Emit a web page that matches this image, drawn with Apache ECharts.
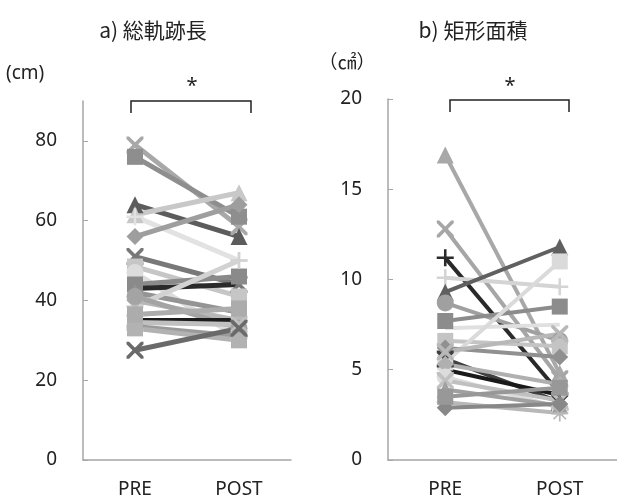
<!DOCTYPE html>
<html><head><meta charset="utf-8">
<script src="https://cdn.jsdelivr.net/npm/echarts@6/dist/echarts.min.js"></script>
<style>html,body{margin:0;padding:0;background:#fff}#c{width:617px;height:499px}</style>
</head><body><div id="c"></div>
<script>
// ---- data ----
const categories = ['PRE', 'POST'];
// a) total path length (cm)
const leftPre  = [79, 76, 64, 61.5, 61, 56, 51, 48.5, 47, 44, 43, 42, 38.5, 40, 41, 35, 34.5, 33.5, 33, 27.5, 36.5];
const leftPost = [58.5, 61, 56, 67, 50, 64, 44, 41, 30.5, 46, 44, 37, 50, 35, 33, 35, 34, 31, 30, 33, 38];
// b) rectangle area (cm2)
const rightPre  = [16.9, 12.8, 11.2, 10.1, 9.3, 8.7, 7.7, 7.3, 6.6, 5.4, 6.2, 5.6, 5.3, 5.0, 4.6, 4.4, 3.9, 3.2, 2.9, 6.0, 3.5];
const rightPost = [4.8, 4.5, 3.7, 9.6, 11.8, 6.6, 8.5, 7.5, 6.3, 11.0, 5.7, 3.2, 4.2, 3.6, 2.9, 3.3, 3.0, 2.6, 3.1, 7.0, 4.0];
const leftTicks = [0, 20, 40, 60, 80];

// ---- styles ----
const X = 'path://M0,0 L3,0 L10,7 L17,0 L20,0 L20,3 L13,10 L20,17 L20,20 L17,20 L10,13 L3,20 L0,20 L0,17 L7,10 L0,3 Z';
const P = 'path://M8.5,0 H11.5 V8.5 H20 V11.5 H11.5 V20 H8.5 V11.5 H0 V8.5 H8.5 Z';
const S = 'path://M9,0 H11 V7.6 L16.6,2 L18,3.4 L12.4,9 H20 V11 H12.4 L18,16.6 L16.6,18 L11,12.4 V20 H9 V12.4 L3.4,18 L2,16.6 L7.6,11 H0 V9 H7.6 L2,3.4 L3.4,2 L9,7.6 Z';
const leftSym = [X, 'rect', 'triangle', 'triangle', P, 'diamond', X, 'rect', 'circle', 'rect', 'none', 'triangle', P, 'diamond', 'circle', 'none', X, 'circle', 'rect', X, 'rect'];
const leftCol = ['#a8a8a8', '#8e8e8e', '#5c5c5c', '#c8c8c8', '#e2e2e2', '#9e9e9e', '#787878', '#c6c6c6', '#dcdcdc', '#8a8a8a', '#2a2a2a', '#949494', '#d2d2d2', '#b8b8b8', '#a4a4a4', '#1c1c1c', '#c0c0c0', '#9a9a9a', '#b2b2b2', '#6a6a6a', '#acacac'];
const rightSym = ['triangle', X, P, P, 'triangle', 'circle', 'rect', 'none', 'rect', 'rect', 'diamond', X, 'diamond', 'none', 'circle', X, 'triangle', S, 'diamond', X, 'rect'];
const rightCol = ['#a8a8a8', '#a6a6a6', '#2a2a2a', '#d4d4d4', '#606060', '#a0a0a0', '#8c8c8c', '#e0e0e0', '#c4c4c4', '#dadada', '#909090', '#404040', '#b0b0b0', '#1a1a1a', '#dcdcdc', '#c0c0c0', '#a0a0a0', '#b8b8b8', '#888888', '#b8b8b8', '#989898'];

const FONT = '"Noto Sans", "Noto Sans CJK JP", sans-serif';
const axisGray = '#a6a6a6';

function makeSeries(pre, post, syms, cols, gi, lw) {
  return pre.map((v, i) => ({
    type: 'line', xAxisIndex: gi, yAxisIndex: gi,
    data: [v, post[i]],
    symbol: syms[i],
    symbolSize: syms[i] === 'rect' ? 16 : 17,
    showSymbol: syms[i] !== 'none',
    lineStyle: { color: cols[i], width: lw },
    itemStyle: { color: cols[i], borderWidth: 0 },
    emphasis: { disabled: true },
    animation: false
  }));
}

function xAxis(gi) {
  return {
    type: 'category', gridIndex: gi, data: categories, boundaryGap: true,
    axisLine: { lineStyle: { color: axisGray, width: 1.5 } },
    axisTick: { inside: true, length: 5, lineStyle: { color: axisGray } },
    axisLabel: { margin: 20, fontSize: 19, color: '#222', fontFamily: FONT }
  };
}

const chart = echarts.init(document.getElementById('c'));
chart.setOption({
  animation: false,
  grid: [
    { left: 83, top: 101, width: 208, height: 362 },
    { left: 388, top: 99, width: 230, height: 361 }
  ],
  xAxis: [xAxis(0), xAxis(1)],
  yAxis: [
    { type: 'value', gridIndex: 0, min: 0, max: 90,
      axisLine: { show: true, lineStyle: { color: axisGray, width: 1.5 } },
      axisTick: { show: true, inside: true, length: 5, customValues: leftTicks, lineStyle: { color: axisGray } },
      axisLabel: { customValues: leftTicks, margin: 26, fontSize: 19, color: '#222', fontFamily: FONT },
      splitLine: { show: false } },
    { type: 'value', gridIndex: 1, min: 0, max: 20, interval: 5,
      axisLine: { show: true, lineStyle: { color: axisGray, width: 1.5 } },
      axisTick: { show: true, inside: true, length: 5, lineStyle: { color: axisGray } },
      axisLabel: { margin: 26, fontSize: 19, color: '#222', fontFamily: FONT },
      splitLine: { show: false } }
  ],
  series: makeSeries(leftPre, leftPost, leftSym, leftCol, 0, 5)
    .concat(makeSeries(rightPre, rightPost, rightSym, rightCol, 1, 4)),
  graphic: [
    { type: 'text', x: 153, y: 30, style: { text: 'a) 総軌跡長', font: '21px "Noto Sans CJK JP"', fill: '#222', textAlign: 'center', textVerticalAlign: 'middle' } },
    { type: 'text', x: 473, y: 30, style: { text: 'b) 矩形面積', font: '21px "Noto Sans CJK JP"', fill: '#222', textAlign: 'center', textVerticalAlign: 'middle' } },
    { type: 'text', x: 6, y: 74, style: { text: '(cm)', font: '19px "Noto Sans"', fill: '#222', textAlign: 'left', textVerticalAlign: 'middle' } },
    { type: 'text', x: 347, y: 62, style: { text: '（㎠）', font: '19px "Noto Sans CJK JP"', fill: '#222', textAlign: 'center', textVerticalAlign: 'middle' } },
    { type: 'polyline', shape: { points: [[131, 113], [131, 101], [251, 101], [251, 113]] }, style: { stroke: '#222', lineWidth: 1.5, fill: null } },
    { type: 'polyline', shape: { points: [[450, 112], [450, 100], [569, 100], [569, 112]] }, style: { stroke: '#222', lineWidth: 1.5, fill: null } },
    { type: 'text', x: 192, y: 86, style: { text: '*', font: '20px "Noto Sans"', fill: '#222', textAlign: 'center', textVerticalAlign: 'middle' } },
    { type: 'text', x: 510, y: 86, style: { text: '*', font: '20px "Noto Sans"', fill: '#222', textAlign: 'center', textVerticalAlign: 'middle' } }
  ]
});
</script></body></html>
